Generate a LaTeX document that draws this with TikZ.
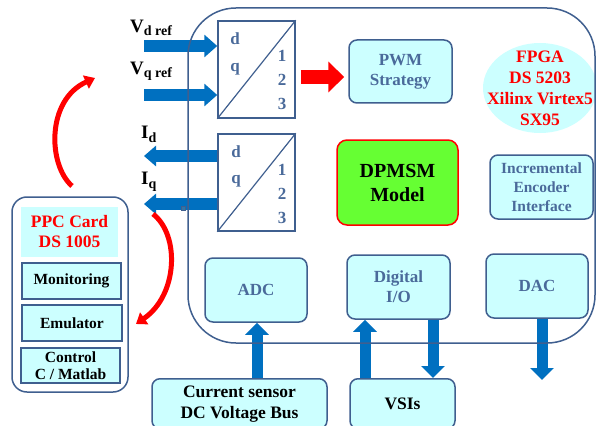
\documentclass[tikz,border=0pt]{standalone}
\usepackage{fontspec}
\setmainfont{Liberation Serif}
\usetikzlibrary{arrows.meta,calc}
\definecolor{cy}{HTML}{CCFFFF}
\definecolor{bd}{HTML}{3F5F8F}
\definecolor{tx}{HTML}{4A6A9A}
\definecolor{ab}{HTML}{0070C0}
\definecolor{gr}{HTML}{66FF33}
\definecolor{rd}{HTML}{FF0000}
\begin{document}
\begin{tikzpicture}[x=1pt,y=-1pt,
  box/.style={draw=bd, line width=1.5pt, fill=cy, rounded corners=8pt, text=tx, align=center,
    font=\bfseries\fontsize{17}{20}\selectfont, inner sep=0pt},
  sbox/.style={draw=bd, line width=2pt, fill=cy, text=black, align=center,
    font=\bfseries\fontsize{15.5}{18}\selectfont, inner sep=0pt},
  dqbox/.style={draw=bd, line width=1.5pt, fill=white, minimum width=77pt, minimum height=97pt, inner sep=0pt},
  dqlab/.style={text=tx, font=\bfseries\fontsize{17}{17}\selectfont, anchor=base, inner sep=0pt},
  lab/.style={text=black, anchor=base west, inner sep=0pt},
  bluein/.style={draw=ab, line width=12pt, -{Triangle[width=22pt,length=13pt]}},
  blueout/.style={draw=ab, line width=12pt, -{Triangle[width=20pt,length=12pt]}},
  bluev/.style={draw=ab, line width=11pt, -{Triangle[width=23pt,length=12pt]}},
  redcurve/.style={draw=rd, line width=5pt, -{Triangle[width=14pt,length=10pt]}},
  outline/.style={draw=bd, line width=1.5pt}
]
\clip (0,0) rectangle (596,425);
\fill[white] (0,0) rectangle (596,425);

% FPGA ellipse
\fill[cy] (540,88) ellipse [x radius=57, y radius=45];
\node[text=rd, align=center, font=\bfseries\fontsize{17.5}{21}\selectfont, inner sep=0pt] (fpga) at (540,88)
  {FPGA\\DS 5203\\Xilinx Virtex5\\SX95};

% dq blocks
\node[dqbox] (dq1) at (256.5,69.5) {};
\draw[bd, line width=1.2pt] (dq1.south west) -- (dq1.north east);
\node[dqbox] (dq2) at (256.5,182.5) {};
\draw[bd, line width=1.2pt] (dq2.south west) -- (dq2.north east);
\node[dqlab] (d1) at (235,45) {d};
\node[dqlab] (q1) at (235,72) {q};
\node[dqlab] (o1) at (282,62) {1};
\node[dqlab] (t1) at (282,86) {2};
\node[dqlab] (h1) at (282,110) {3};
\node[dqlab] (d2) at (236,157) {d};
\node[dqlab] (q2) at (236,183) {q};
\node[dqlab] (o2) at (282,175) {1};
\node[dqlab] (t2) at (282,199) {2};
\node[dqlab] (h2) at (282,223) {3};

% boxes inside FPGA
\node[box, minimum width=103pt, minimum height=63pt] (pwm) at (400.5,71.5) {PWM\\Strategy};
\node[box, draw=rd, fill=gr, text=black, rounded corners=10pt, minimum width=121pt, minimum height=85pt,
  font=\bfseries\fontsize{20}{24}\selectfont] (dpmsm) at (397.5,182.5) {DPMSM\\Model};
\node[box, minimum width=103pt, minimum height=64pt, font=\bfseries\fontsize{15.5}{19}\selectfont] (enc) at (541.5,187)
  {Incremental\\Encoder\\Interface};
\node[box, minimum width=102pt, minimum height=64pt] (adc) at (256,290) {ADC};
\node[box, minimum width=103pt, minimum height=64pt] (dio) at (398.5,287) {Digital\\I/O};
\node[box, minimum width=102pt, minimum height=64pt] (dac) at (537,286) {DAC};

% outside boxes
\node[box, text=black, minimum width=175pt, minimum height=50pt, anchor=north,
  font=\bfseries\fontsize{17.5}{21}\selectfont] (cs) at (239.5,378) {Current sensor\\DC Voltage Bus};
\node[box, text=black, minimum width=105pt, minimum height=50pt, anchor=north,
  font=\bfseries\fontsize{17.5}{21}\selectfont] (vsi) at (402.5,378) {VSIs};

% PPC card
\node[draw=bd, line width=1.5pt, fill=white, rounded corners=15pt, minimum width=116pt, minimum height=195pt] (ppc) at (70,294.5) {};
\node[fill=cy, text=rd, align=center, minimum width=97pt, minimum height=50pt, inner sep=0pt,
  font=\bfseries\fontsize{17.5}{20}\selectfont] (ppct) at (69.5,232) {PPC Card\\DS 1005};
\node[sbox, minimum width=99pt, minimum height=36pt] (mon) at (71.5,281) {Monitoring};
\node[sbox, minimum width=100pt, minimum height=36pt] (emu) at (72,323) {Emulator};
\node[sbox, minimum width=99pt, minimum height=35pt] (ctl) at (70.5,365.5) {Control\\[-1pt]C / Matlab};

% labels
\node[lab] (vd) at (130,33) {\fontsize{19}{19}\selectfont\bfseries V\raisebox{-2.5pt}{\fontsize{14}{14}\selectfont d ref}};
\node[lab] (vq) at (130,75) {\fontsize{19}{19}\selectfont\bfseries V\raisebox{-3pt}{\fontsize{14}{14}\selectfont q ref}};
\node[lab] (id) at (141,138) {\fontsize{19}{19}\selectfont\bfseries I\raisebox{-4pt}{\fontsize{14}{14}\selectfont d}};
\node[lab] (iq) at (141,184) {\fontsize{19}{19}\selectfont\bfseries I\raisebox{-4pt}{\fontsize{14}{14}\selectfont q}};

% blue arrows
\coordinate (vdin) at (144,46);
\coordinate (vqin) at (144,95);
\coordinate (idout) at (144,156);
\coordinate (iqout) at (144,204);
\coordinate (dacout) at (542,380);
\draw[bluein] (vdin) -- (vdin -| dq1.west);
\draw[bluein] (vqin) -- (vqin -| dq1.west);
\draw[blueout] (idout -| dq2.west) -- (idout);
\draw[blueout] (iqout -| dq2.west) -- (iqout);
\draw[bluev] ([xshift=1pt]adc.south |- cs.north) -- ([xshift=1pt]adc.south);
\draw[bluev] ([xshift=-33.5pt]dio.south |- vsi.north) -- ([xshift=-33.5pt]dio.south);
\draw[bluev] ([xshift=34.5pt]dio.south) -- ([xshift=34.5pt]dio.south |- vsi.north);
\draw[bluev] (dacout |- dac.south) -- (dacout);

% red straight arrow
\draw[draw=rd, line width=14pt, -{Triangle[width=30pt,length=16pt]}, shorten <=5pt, shorten >=4pt]
  (dq1.east |- 0,77) -- (pwm.west |- 0,77);

% FPGA outline
\draw[outline, rounded corners=48pt] (188,343) rectangle (595,8);
\node[draw=bd, fill=ab!60!gray, minimum size=4pt, inner sep=0pt, line width=0.6pt] (mk) at (183,208) {};

% red curved arrows
\coordinate (r1s) at (72,186);
\coordinate (r1e) at (95,78);
\draw[redcurve] (r1s) .. controls (48,165) and (46,100) .. (r1e);
\coordinate (r2s) at (153,214);
\coordinate (r2e) at (136,324);
\draw[redcurve] (r2s) .. controls (180,235) and (178,295) .. (r2e);
\end{tikzpicture}
\end{document}
